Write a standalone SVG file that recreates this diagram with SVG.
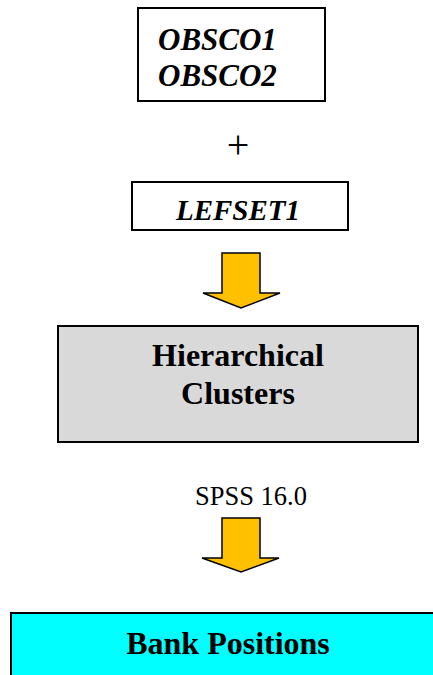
<svg xmlns="http://www.w3.org/2000/svg" width="433" height="675" viewBox="0 0 433 675">
<style>
.box{stroke:#000;stroke-width:2}
.t{font-family:"Liberation Serif","Times New Roman",serif;fill:#000}
.b{font-weight:bold}
.i{font-style:italic}
.arr{fill:#FFC000;stroke:#000;stroke-width:1.5;stroke-linejoin:miter}
</style>
<g id="obsco">
<rect class="box" x="138" y="8" width="187" height="93" fill="#fff"/>
<text class="t b i" x="158" y="50" font-size="31">OBSCO1</text>
<text class="t b i" x="158" y="86" font-size="31">OBSCO2</text>
</g>
<g id="plus">
<text class="t" x="238" y="158" font-size="40" text-anchor="middle">+</text>
</g>
<g id="lefset">
<rect class="box" x="132" y="182" width="216" height="48" fill="#fff"/>
<text class="t b i" x="238" y="220" font-size="29" text-anchor="middle">LEFSET1</text>
</g>
<g id="connectors">
<path class="arr" d="M222,253 H260 V293 H280 L241,308 L203,293 H222 Z"/>
<path class="arr" d="M222,518 H260 V558 H279 L241,572 L202,558 H222 Z"/>
</g>
<g id="hier">
<rect class="box" x="58" y="326" width="360" height="116" fill="#D9D9D9"/>
<text class="t b" x="238" y="366" font-size="32" text-anchor="middle">Hierarchical</text>
<text class="t b" x="238" y="404" font-size="32" text-anchor="middle">Clusters</text>
</g>
<g id="spss">
<text class="t" x="251" y="505" font-size="26.5" text-anchor="middle">SPSS 16.0</text>
</g>
<g id="bank">
<rect class="box" x="11" y="613" width="440" height="80" fill="#00FFFF"/>
<text class="t b" x="228" y="654" font-size="32" text-anchor="middle">Bank Positions</text>
</g>
</svg>
